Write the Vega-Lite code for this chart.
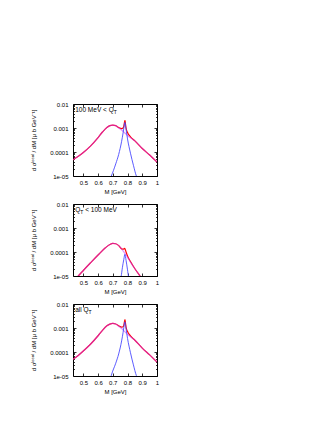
{
  "$schema": "https://vega.github.io/schema/vega-lite/v6.json",
  "background": "white",
  "autosize": {"type": "pad"},
  "padding": {"left": 29, "top": 100, "right": 5, "bottom": 5},
  "bounds": "flush",
  "spacing": 28,
  "config": {
    "view": {"stroke": "black", "strokeWidth": 1},
    "axis": {
      "grid": false,
      "domain": false,
      "labelFont": "Liberation Sans",
      "labelFontSize": 6,
      "labelColor": "black",
      "titleFont": "Liberation Sans",
      "titleFontSize": 6,
      "titleFontWeight": "normal",
      "titleColor": "black",
      "tickColor": "black",
      "tickWidth": 0.8,
      "labelFlush": false,
      "labelOverlap": false
    },
    "axisY": {"labelPadding": 8, "titleX": -37, "titleBaseline": "bottom"},
    "axisX": {"labelPadding": 6, "titlePadding": 3}
  },
  "datasets": {
    "c": [
      {"p":1,"s":"tot","M":0.43,"v":4.7e-5},{"p":1,"s":"tot","M":0.45,"v":5.7e-5},{"p":1,"s":"tot","M":0.5,"v":9.5e-5},{"p":1,"s":"tot","M":0.55,"v":1.8e-4},{"p":1,"s":"tot","M":0.6,"v":4.0e-4},{"p":1,"s":"tot","M":0.63,"v":6.8e-4},{"p":1,"s":"tot","M":0.66,"v":1.05e-3},{"p":1,"s":"tot","M":0.68,"v":1.25e-3},{"p":1,"s":"tot","M":0.7,"v":1.32e-3},{"p":1,"s":"tot","M":0.72,"v":1.25e-3},{"p":1,"s":"tot","M":0.74,"v":1.05e-3},{"p":1,"s":"tot","M":0.76,"v":9.5e-4},{"p":1,"s":"tot","M":0.77,"v":1.0e-3},{"p":1,"s":"tot","M":0.775,"v":1.2e-3},{"p":1,"s":"tot","M":0.78,"v":1.8e-3},{"p":1,"s":"tot","M":0.783,"v":2.1e-3},{"p":1,"s":"tot","M":0.786,"v":1.5e-3},{"p":1,"s":"tot","M":0.79,"v":1.0e-3},{"p":1,"s":"tot","M":0.8,"v":6.5e-4},{"p":1,"s":"tot","M":0.82,"v":4.3e-4},{"p":1,"s":"tot","M":0.85,"v":2.9e-4},{"p":1,"s":"tot","M":0.9,"v":1.4e-4},{"p":1,"s":"tot","M":0.95,"v":7.5e-5},{"p":1,"s":"tot","M":1.0,"v":3.8e-5},
      {"p":1,"s":"rho","M":0.43,"v":4.7e-5},{"p":1,"s":"rho","M":0.45,"v":5.7e-5},{"p":1,"s":"rho","M":0.5,"v":9.5e-5},{"p":1,"s":"rho","M":0.55,"v":1.8e-4},{"p":1,"s":"rho","M":0.6,"v":4.0e-4},{"p":1,"s":"rho","M":0.63,"v":6.8e-4},{"p":1,"s":"rho","M":0.66,"v":1.05e-3},{"p":1,"s":"rho","M":0.68,"v":1.25e-3},{"p":1,"s":"rho","M":0.7,"v":1.32e-3},{"p":1,"s":"rho","M":0.72,"v":1.25e-3},{"p":1,"s":"rho","M":0.74,"v":1.0e-3},{"p":1,"s":"rho","M":0.76,"v":8.2e-4},{"p":1,"s":"rho","M":0.78,"v":6.3e-4},{"p":1,"s":"rho","M":0.8,"v":4.9e-4},{"p":1,"s":"rho","M":0.82,"v":3.9e-4},{"p":1,"s":"rho","M":0.85,"v":2.9e-4},{"p":1,"s":"rho","M":0.9,"v":1.4e-4},{"p":1,"s":"rho","M":0.95,"v":7.5e-5},{"p":1,"s":"rho","M":1.0,"v":3.8e-5},
      {"p":1,"s":"om","M":0.685,"v":8.5e-6},{"p":1,"s":"om","M":0.69,"v":1.0e-5},{"p":1,"s":"om","M":0.72,"v":3.2e-5},{"p":1,"s":"om","M":0.74,"v":7.9e-5},{"p":1,"s":"om","M":0.76,"v":2.8e-4},{"p":1,"s":"om","M":0.77,"v":6.3e-4},{"p":1,"s":"om","M":0.775,"v":1.0e-3},{"p":1,"s":"om","M":0.782,"v":1.7e-3},{"p":1,"s":"om","M":0.79,"v":8.9e-4},{"p":1,"s":"om","M":0.8,"v":3.5e-4},{"p":1,"s":"om","M":0.82,"v":8.9e-5},{"p":1,"s":"om","M":0.84,"v":2.8e-5},{"p":1,"s":"om","M":0.86,"v":1.0e-5},{"p":1,"s":"om","M":0.87,"v":7.5e-6},
      {"p":2,"s":"tot","M":0.43,"v":5e-6},{"p":2,"s":"tot","M":0.466,"v":1.0e-5},{"p":2,"s":"tot","M":0.5,"v":1.7e-5},{"p":2,"s":"tot","M":0.55,"v":3.6e-5},{"p":2,"s":"tot","M":0.6,"v":7.5e-5},{"p":2,"s":"tot","M":0.65,"v":1.5e-4},{"p":2,"s":"tot","M":0.68,"v":2.05e-4},{"p":2,"s":"tot","M":0.7,"v":2.3e-4},{"p":2,"s":"tot","M":0.72,"v":2.2e-4},{"p":2,"s":"tot","M":0.74,"v":1.85e-4},{"p":2,"s":"tot","M":0.76,"v":1.35e-4},{"p":2,"s":"tot","M":0.77,"v":1.3e-4},{"p":2,"s":"tot","M":0.775,"v":1.35e-4},{"p":2,"s":"tot","M":0.78,"v":1.42e-4},{"p":2,"s":"tot","M":0.785,"v":1.25e-4},{"p":2,"s":"tot","M":0.79,"v":1.0e-4},{"p":2,"s":"tot","M":0.8,"v":6.8e-5},{"p":2,"s":"tot","M":0.82,"v":4.0e-5},{"p":2,"s":"tot","M":0.85,"v":2.0e-5},{"p":2,"s":"tot","M":0.885,"v":1.0e-5},{"p":2,"s":"tot","M":0.9,"v":7.5e-6},
      {"p":2,"s":"rho","M":0.43,"v":5e-6},{"p":2,"s":"rho","M":0.466,"v":1.0e-5},{"p":2,"s":"rho","M":0.5,"v":1.7e-5},{"p":2,"s":"rho","M":0.55,"v":3.6e-5},{"p":2,"s":"rho","M":0.6,"v":7.5e-5},{"p":2,"s":"rho","M":0.65,"v":1.5e-4},{"p":2,"s":"rho","M":0.68,"v":2.05e-4},{"p":2,"s":"rho","M":0.7,"v":2.3e-4},{"p":2,"s":"rho","M":0.72,"v":2.2e-4},{"p":2,"s":"rho","M":0.74,"v":1.85e-4},{"p":2,"s":"rho","M":0.76,"v":1.35e-4},{"p":2,"s":"rho","M":0.78,"v":9.0e-5},{"p":2,"s":"rho","M":0.8,"v":6.0e-5},{"p":2,"s":"rho","M":0.82,"v":3.8e-5},{"p":2,"s":"rho","M":0.85,"v":2.0e-5},{"p":2,"s":"rho","M":0.885,"v":1.0e-5},{"p":2,"s":"rho","M":0.9,"v":7.5e-6},
      {"p":2,"s":"om","M":0.75,"v":8e-6},{"p":2,"s":"om","M":0.757,"v":1.0e-5},{"p":2,"s":"om","M":0.765,"v":2.2e-5},{"p":2,"s":"om","M":0.775,"v":5.0e-5},{"p":2,"s":"om","M":0.782,"v":8.0e-5},{"p":2,"s":"om","M":0.79,"v":4.5e-5},{"p":2,"s":"om","M":0.8,"v":1.8e-5},{"p":2,"s":"om","M":0.806,"v":1.0e-5},{"p":2,"s":"om","M":0.81,"v":8e-6},
      {"p":3,"s":"tot","M":0.43,"v":5.0e-5},{"p":3,"s":"tot","M":0.45,"v":6.0e-5},{"p":3,"s":"tot","M":0.5,"v":1.1e-4},{"p":3,"s":"tot","M":0.55,"v":2.15e-4},{"p":3,"s":"tot","M":0.6,"v":4.75e-4},{"p":3,"s":"tot","M":0.63,"v":8.0e-4},{"p":3,"s":"tot","M":0.66,"v":1.23e-3},{"p":3,"s":"tot","M":0.68,"v":1.45e-3},{"p":3,"s":"tot","M":0.7,"v":1.55e-3},{"p":3,"s":"tot","M":0.72,"v":1.47e-3},{"p":3,"s":"tot","M":0.74,"v":1.24e-3},{"p":3,"s":"tot","M":0.76,"v":1.08e-3},{"p":3,"s":"tot","M":0.77,"v":1.12e-3},{"p":3,"s":"tot","M":0.775,"v":1.33e-3},{"p":3,"s":"tot","M":0.78,"v":1.95e-3},{"p":3,"s":"tot","M":0.783,"v":2.25e-3},{"p":3,"s":"tot","M":0.786,"v":1.62e-3},{"p":3,"s":"tot","M":0.79,"v":1.09e-3},{"p":3,"s":"tot","M":0.8,"v":7.1e-4},{"p":3,"s":"tot","M":0.82,"v":4.7e-4},{"p":3,"s":"tot","M":0.85,"v":3.1e-4},{"p":3,"s":"tot","M":0.9,"v":1.45e-4},{"p":3,"s":"tot","M":0.95,"v":7.6e-5},{"p":3,"s":"tot","M":1.0,"v":3.8e-5},
      {"p":3,"s":"rho","M":0.43,"v":5.0e-5},{"p":3,"s":"rho","M":0.45,"v":6.0e-5},{"p":3,"s":"rho","M":0.5,"v":1.1e-4},{"p":3,"s":"rho","M":0.55,"v":2.15e-4},{"p":3,"s":"rho","M":0.6,"v":4.75e-4},{"p":3,"s":"rho","M":0.63,"v":8.0e-4},{"p":3,"s":"rho","M":0.66,"v":1.23e-3},{"p":3,"s":"rho","M":0.68,"v":1.45e-3},{"p":3,"s":"rho","M":0.7,"v":1.55e-3},{"p":3,"s":"rho","M":0.72,"v":1.47e-3},{"p":3,"s":"rho","M":0.74,"v":1.19e-3},{"p":3,"s":"rho","M":0.76,"v":9.5e-4},{"p":3,"s":"rho","M":0.78,"v":7.2e-4},{"p":3,"s":"rho","M":0.8,"v":5.5e-4},{"p":3,"s":"rho","M":0.82,"v":4.3e-4},{"p":3,"s":"rho","M":0.85,"v":3.1e-4},{"p":3,"s":"rho","M":0.9,"v":1.45e-4},{"p":3,"s":"rho","M":0.95,"v":7.6e-5},{"p":3,"s":"rho","M":1.0,"v":3.8e-5},
      {"p":3,"s":"om","M":0.685,"v":8e-6},{"p":3,"s":"om","M":0.69,"v":1.05e-5},{"p":3,"s":"om","M":0.72,"v":3.4e-5},{"p":3,"s":"om","M":0.74,"v":8.3e-5},{"p":3,"s":"om","M":0.76,"v":2.9e-4},{"p":3,"s":"om","M":0.77,"v":6.6e-4},{"p":3,"s":"om","M":0.775,"v":1.05e-3},{"p":3,"s":"om","M":0.782,"v":1.8e-3},{"p":3,"s":"om","M":0.79,"v":9.3e-4},{"p":3,"s":"om","M":0.8,"v":3.7e-4},{"p":3,"s":"om","M":0.82,"v":9.3e-5},{"p":3,"s":"om","M":0.84,"v":2.9e-5},{"p":3,"s":"om","M":0.86,"v":1.05e-5},{"p":3,"s":"om","M":0.87,"v":8e-6}
    ]
  },
  "vconcat": [
    {
      "width": 84, "height": 72,
      "data": {"name": "c"},
      "resolve": {"axis": {"x": "independent", "y": "independent"}},
      "layer": [
        {"transform": [{"filter": "datum.p == 1 && datum.s == 'tot'"}],
         "mark": {"type": "line", "color": "#ff0000", "strokeWidth": 1.2, "clip": true, "interpolate": "monotone"},
         "encoding": {
           "x": {"field": "M", "type": "quantitative", "scale": {"domain": [0.43, 1], "nice": false, "zero": false},
                 "axis": {"title": "M [GeV]", "values": [0.5, 0.6, 0.7, 0.8, 0.9, 1], "format": "~g", "tickSize": -3}},
           "y": {"field": "v", "type": "quantitative", "scale": {"type": "log", "domain": [0.00001, 0.01], "nice": false},
                 "axis": {"title": "d σˡᵒᶜᵃˡ / dM  [μ b GeV⁻¹]",
                          "values": [0.00001, 0.00002, 0.00003, 0.00004, 0.00005, 0.00006, 0.00007, 0.00008, 0.00009, 0.0001, 0.0002, 0.0003, 0.0004, 0.0005, 0.0006, 0.0007, 0.0008, 0.0009, 0.001, 0.002, 0.003, 0.004, 0.005, 0.006, 0.007, 0.008, 0.009, 0.01],
                          "labelExpr": "datum.value == 0.01 ? '0.01' : datum.value == 0.001 ? '0.001' : datum.value == 0.0001 ? '0.0001' : datum.value == 0.00001 ? '1e-05' : ''",
                          "tickSize": {"condition": {"test": "indexof([0.01, 0.001, 0.0001, 0.00001], datum.value) >= 0", "value": -3}, "value": -1.5}}}
         }},
        {"transform": [{"filter": "datum.p == 1 && datum.s == 'rho'"}],
         "mark": {"type": "line", "color": "#c837ff", "opacity": 0.55, "strokeWidth": 1.2, "clip": true, "interpolate": "monotone"},
         "encoding": {"x": {"field": "M", "type": "quantitative", "axis": null}, "y": {"field": "v", "type": "quantitative", "axis": null}}},
        {"transform": [{"filter": "datum.p == 1 && datum.s == 'om'"}],
         "mark": {"type": "line", "color": "#4a4aff", "strokeWidth": 0.9, "clip": true, "interpolate": "monotone"},
         "encoding": {
           "x": {"field": "M", "type": "quantitative", "axis": {"orient": "top", "labels": false, "title": null, "values": [0.5, 0.6, 0.7, 0.8, 0.9, 1], "tickSize": -3}},
           "y": {"field": "v", "type": "quantitative", "axis": {"orient": "right", "labels": false, "title": null,
                 "values": [0.00001, 0.00002, 0.00003, 0.00004, 0.00005, 0.00006, 0.00007, 0.00008, 0.00009, 0.0001, 0.0002, 0.0003, 0.0004, 0.0005, 0.0006, 0.0007, 0.0008, 0.0009, 0.001, 0.002, 0.003, 0.004, 0.005, 0.006, 0.007, 0.008, 0.009, 0.01],
                 "tickSize": {"condition": {"test": "indexof([0.01, 0.001, 0.0001, 0.00001], datum.value) >= 0", "value": -3}, "value": -1.5}}}
         }},
        {"data": {"values": [{"t": "100 MeV < Q"}]},
         "mark": {"type": "text", "align": "left", "baseline": "alphabetic", "font": "Liberation Sans", "fontSize": 6.5, "color": "black"},
         "encoding": {"x": {"datum": 0.445, "type": "quantitative", "axis": null}, "y": {"datum": 0.0045, "type": "quantitative", "axis": null}, "text": {"field": "t"}}},
        {"data": {"values": [{"t": "T"}]},
         "mark": {"type": "text", "align": "left", "baseline": "alphabetic", "font": "Liberation Sans", "fontSize": 5, "color": "black", "dx": 38.5, "dy": 1.5},
         "encoding": {"x": {"datum": 0.445, "type": "quantitative", "axis": null}, "y": {"datum": 0.0045, "type": "quantitative", "axis": null}, "text": {"field": "t"}}}
      ]
    },
    {
      "width": 84, "height": 72,
      "data": {"name": "c"},
      "resolve": {"axis": {"x": "independent", "y": "independent"}},
      "layer": [
        {"transform": [{"filter": "datum.p == 2 && datum.s == 'tot'"}],
         "mark": {"type": "line", "color": "#ff0000", "strokeWidth": 1.2, "clip": true, "interpolate": "monotone"},
         "encoding": {
           "x": {"field": "M", "type": "quantitative", "scale": {"domain": [0.43, 1], "nice": false, "zero": false},
                 "axis": {"title": "M [GeV]", "values": [0.5, 0.6, 0.7, 0.8, 0.9, 1], "format": "~g", "tickSize": -3}},
           "y": {"field": "v", "type": "quantitative", "scale": {"type": "log", "domain": [0.00001, 0.01], "nice": false},
                 "axis": {"title": "d σˡᵒᶜᵃˡ / dM  [μ b GeV⁻¹]",
                          "values": [0.00001, 0.00002, 0.00003, 0.00004, 0.00005, 0.00006, 0.00007, 0.00008, 0.00009, 0.0001, 0.0002, 0.0003, 0.0004, 0.0005, 0.0006, 0.0007, 0.0008, 0.0009, 0.001, 0.002, 0.003, 0.004, 0.005, 0.006, 0.007, 0.008, 0.009, 0.01],
                          "labelExpr": "datum.value == 0.01 ? '0.01' : datum.value == 0.001 ? '0.001' : datum.value == 0.0001 ? '0.0001' : datum.value == 0.00001 ? '1e-05' : ''",
                          "tickSize": {"condition": {"test": "indexof([0.01, 0.001, 0.0001, 0.00001], datum.value) >= 0", "value": -3}, "value": -1.5}}}
         }},
        {"transform": [{"filter": "datum.p == 2 && datum.s == 'rho'"}],
         "mark": {"type": "line", "color": "#c837ff", "opacity": 0.55, "strokeWidth": 1.2, "clip": true, "interpolate": "monotone"},
         "encoding": {"x": {"field": "M", "type": "quantitative", "axis": null}, "y": {"field": "v", "type": "quantitative", "axis": null}}},
        {"transform": [{"filter": "datum.p == 2 && datum.s == 'om'"}],
         "mark": {"type": "line", "color": "#4a4aff", "strokeWidth": 0.9, "clip": true, "interpolate": "monotone"},
         "encoding": {
           "x": {"field": "M", "type": "quantitative", "axis": {"orient": "top", "labels": false, "title": null, "values": [0.5, 0.6, 0.7, 0.8, 0.9, 1], "tickSize": -3}},
           "y": {"field": "v", "type": "quantitative", "axis": {"orient": "right", "labels": false, "title": null,
                 "values": [0.00001, 0.00002, 0.00003, 0.00004, 0.00005, 0.00006, 0.00007, 0.00008, 0.00009, 0.0001, 0.0002, 0.0003, 0.0004, 0.0005, 0.0006, 0.0007, 0.0008, 0.0009, 0.001, 0.002, 0.003, 0.004, 0.005, 0.006, 0.007, 0.008, 0.009, 0.01],
                 "tickSize": {"condition": {"test": "indexof([0.01, 0.001, 0.0001, 0.00001], datum.value) >= 0", "value": -3}, "value": -1.5}}}
         }},
        {"data": {"values": [{"t": "Q"}]},
         "mark": {"type": "text", "align": "left", "baseline": "alphabetic", "font": "Liberation Sans", "fontSize": 6.5, "color": "black"},
         "encoding": {"x": {"datum": 0.445, "type": "quantitative", "axis": null}, "y": {"datum": 0.0045, "type": "quantitative", "axis": null}, "text": {"field": "t"}}},
        {"data": {"values": [{"t": "T"}]},
         "mark": {"type": "text", "align": "left", "baseline": "alphabetic", "font": "Liberation Sans", "fontSize": 5, "color": "black", "dx": 5.1, "dy": 1.5},
         "encoding": {"x": {"datum": 0.445, "type": "quantitative", "axis": null}, "y": {"datum": 0.0045, "type": "quantitative", "axis": null}, "text": {"field": "t"}}},
        {"data": {"values": [{"t": "< 100 MeV"}]},
         "mark": {"type": "text", "align": "left", "baseline": "alphabetic", "font": "Liberation Sans", "fontSize": 6.5, "color": "black", "dx": 10},
         "encoding": {"x": {"datum": 0.445, "type": "quantitative", "axis": null}, "y": {"datum": 0.0045, "type": "quantitative", "axis": null}, "text": {"field": "t"}}}
      ]
    },
    {
      "width": 84, "height": 72,
      "data": {"name": "c"},
      "resolve": {"axis": {"x": "independent", "y": "independent"}},
      "layer": [
        {"transform": [{"filter": "datum.p == 3 && datum.s == 'tot'"}],
         "mark": {"type": "line", "color": "#ff0000", "strokeWidth": 1.2, "clip": true, "interpolate": "monotone"},
         "encoding": {
           "x": {"field": "M", "type": "quantitative", "scale": {"domain": [0.43, 1], "nice": false, "zero": false},
                 "axis": {"title": "M [GeV]", "values": [0.5, 0.6, 0.7, 0.8, 0.9, 1], "format": "~g", "tickSize": -3}},
           "y": {"field": "v", "type": "quantitative", "scale": {"type": "log", "domain": [0.00001, 0.01], "nice": false},
                 "axis": {"title": "d σˡᵒᶜᵃˡ / dM  [μ b GeV⁻¹]",
                          "values": [0.00001, 0.00002, 0.00003, 0.00004, 0.00005, 0.00006, 0.00007, 0.00008, 0.00009, 0.0001, 0.0002, 0.0003, 0.0004, 0.0005, 0.0006, 0.0007, 0.0008, 0.0009, 0.001, 0.002, 0.003, 0.004, 0.005, 0.006, 0.007, 0.008, 0.009, 0.01],
                          "labelExpr": "datum.value == 0.01 ? '0.01' : datum.value == 0.001 ? '0.001' : datum.value == 0.0001 ? '0.0001' : datum.value == 0.00001 ? '1e-05' : ''",
                          "tickSize": {"condition": {"test": "indexof([0.01, 0.001, 0.0001, 0.00001], datum.value) >= 0", "value": -3}, "value": -1.5}}}
         }},
        {"transform": [{"filter": "datum.p == 3 && datum.s == 'rho'"}],
         "mark": {"type": "line", "color": "#c837ff", "opacity": 0.55, "strokeWidth": 1.2, "clip": true, "interpolate": "monotone"},
         "encoding": {"x": {"field": "M", "type": "quantitative", "axis": null}, "y": {"field": "v", "type": "quantitative", "axis": null}}},
        {"transform": [{"filter": "datum.p == 3 && datum.s == 'om'"}],
         "mark": {"type": "line", "color": "#4a4aff", "strokeWidth": 0.9, "clip": true, "interpolate": "monotone"},
         "encoding": {
           "x": {"field": "M", "type": "quantitative", "axis": {"orient": "top", "labels": false, "title": null, "values": [0.5, 0.6, 0.7, 0.8, 0.9, 1], "tickSize": -3}},
           "y": {"field": "v", "type": "quantitative", "axis": {"orient": "right", "labels": false, "title": null,
                 "values": [0.00001, 0.00002, 0.00003, 0.00004, 0.00005, 0.00006, 0.00007, 0.00008, 0.00009, 0.0001, 0.0002, 0.0003, 0.0004, 0.0005, 0.0006, 0.0007, 0.0008, 0.0009, 0.001, 0.002, 0.003, 0.004, 0.005, 0.006, 0.007, 0.008, 0.009, 0.01],
                 "tickSize": {"condition": {"test": "indexof([0.01, 0.001, 0.0001, 0.00001], datum.value) >= 0", "value": -3}, "value": -1.5}}}
         }},
        {"data": {"values": [{"t": "all Q"}]},
         "mark": {"type": "text", "align": "left", "baseline": "alphabetic", "font": "Liberation Sans", "fontSize": 6.5, "color": "black"},
         "encoding": {"x": {"datum": 0.445, "type": "quantitative", "axis": null}, "y": {"datum": 0.0045, "type": "quantitative", "axis": null}, "text": {"field": "t"}}},
        {"data": {"values": [{"t": "T"}]},
         "mark": {"type": "text", "align": "left", "baseline": "alphabetic", "font": "Liberation Sans", "fontSize": 5, "color": "black", "dx": 13.4, "dy": 1.5},
         "encoding": {"x": {"datum": 0.445, "type": "quantitative", "axis": null}, "y": {"datum": 0.0045, "type": "quantitative", "axis": null}, "text": {"field": "t"}}}
      ]
    }
  ]
}
